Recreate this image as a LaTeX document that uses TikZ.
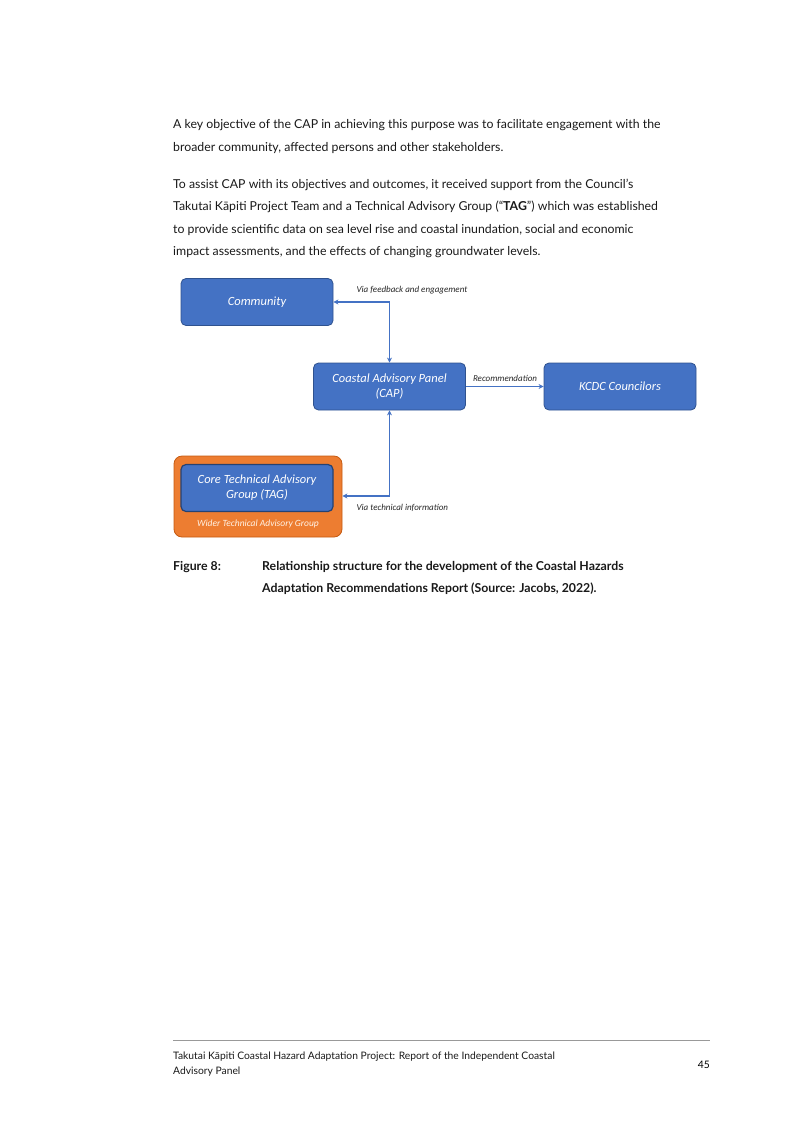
\documentclass[tikz,border=0pt]{standalone}
\usepackage{fontspec}
\setmainfont{Lato}
\newfontfamily\diagfont{Carlito}
\usetikzlibrary{positioning,arrows.meta,calc}
\definecolor{boxblue}{HTML}{4472C4}
\definecolor{boxedge}{HTML}{2F528F}
\definecolor{tagorange}{HTML}{ED7D31}
\definecolor{tagedge}{HTML}{C55A11}
\tikzset{
  panelbox/.style={draw=boxedge, fill=boxblue, rounded corners=5pt, line width=0.8pt,
    minimum width=152pt, minimum height=47pt, align=center, text=white,
    font=\diagfont\itshape\fontsize{12.5}{15}\selectfont},
  linkarrow/.style={draw=boxblue, line width=1.4pt, {Stealth[length=5pt,width=5pt]}-{Stealth[length=5pt,width=5pt]}},
  linklabel/.style={font=\diagfont\itshape\fontsize{9}{10}\selectfont, text=black!85},
  bodyline/.style={anchor=base west, inner sep=0pt, font=\fontsize{12.3}{15}\selectfont, text=black!90}
}
\begin{document}
\begin{tikzpicture}[x=1pt, y=-1pt]
\useasboundingbox (0,0) rectangle (806,1141);

% body text
\foreach \t/\y in {{A key objective of the CAP in achieving this purpose was to facilitate engagement with the}/128,
  {broader community, affected persons and other stakeholders.}/151,
  {To assist CAP with its objectives and outcomes, it received support from the Council’s}/188,
  {Takutai Kāpiti Project Team and a Technical Advisory Group (“\textbf{TAG}”) which was established}/210,
  {to provide scientific data on sea level rise and coastal inundation, social and economic}/233,
  {impact assessments, and the effects of changing groundwater levels.}/255}
  \node [bodyline] at (173,\y) {\t};

% diagram
\node [panelbox] (community) at (257,302) {Community};
\node [panelbox] (cap) at (389.5,386.5) {Coastal Advisory Panel\\(CAP)};
\node [panelbox] (kcdc) at (620,386.5) {KCDC Councilors};
\node [draw=tagedge, fill=tagorange, rounded corners=8pt, line width=0.8pt,
  minimum width=168pt, minimum height=81pt] (wider) at (258,496.5) {};
\node [panelbox, draw=boxedge!80!black, line width=1.2pt] (tag) at (257,488) {Core Technical Advisory\\Group (TAG)};
\node [font=\diagfont\itshape\fontsize{9.5}{11}\selectfont, text=white!90!orange] (widerlabel) at (258,524) {Wider Technical Advisory Group};

\draw [linkarrow] (community.east) -| (cap.north);
\draw [linkarrow] (wider.east |- 0,496) -| (cap.south);
\draw [linkarrow, {}-{Stealth[length=5pt,width=5pt]}] (cap.east) -- (kcdc.west);

\node [linklabel, anchor=west] (feedback) at (353,290) {Via feedback and engagement};
\node [linklabel] (recom) at (505,378) {Recommendation};
\node [linklabel, anchor=west] (techinfo) at (353,508) {Via technical information};

% caption
\node [bodyline, font=\bfseries\fontsize{12.3}{15}\selectfont] (figlabel) at (173,570) {Figure 8:};
\node [bodyline, font=\bfseries\fontsize{12.3}{15}\selectfont] (cap1) at (262,570) {Relationship structure for the development of the Coastal Hazards};
\node [bodyline, font=\bfseries\fontsize{12.3}{15}\selectfont] (cap2) at (262,592) {Adaptation Recommendations Report (Source: Jacobs, 2022).};

% footer
\draw [black!40, line width=0.8pt] (173,1040) -- (710,1040);
\node [bodyline, font=\fontsize{10.3}{12}\selectfont] (foot1) at (173,1059) {Takutai Kāpiti Coastal Hazard Adaptation Project: Report of the Independent Coastal};
\node [bodyline, font=\fontsize{10.3}{12}\selectfont] (foot2) at (173,1074) {Advisory Panel};
\node [anchor=base east, inner sep=0pt, font=\fontsize{10.3}{12}\selectfont] (pagenum) at (710,1068) {45};
\end{tikzpicture}
\end{document}
